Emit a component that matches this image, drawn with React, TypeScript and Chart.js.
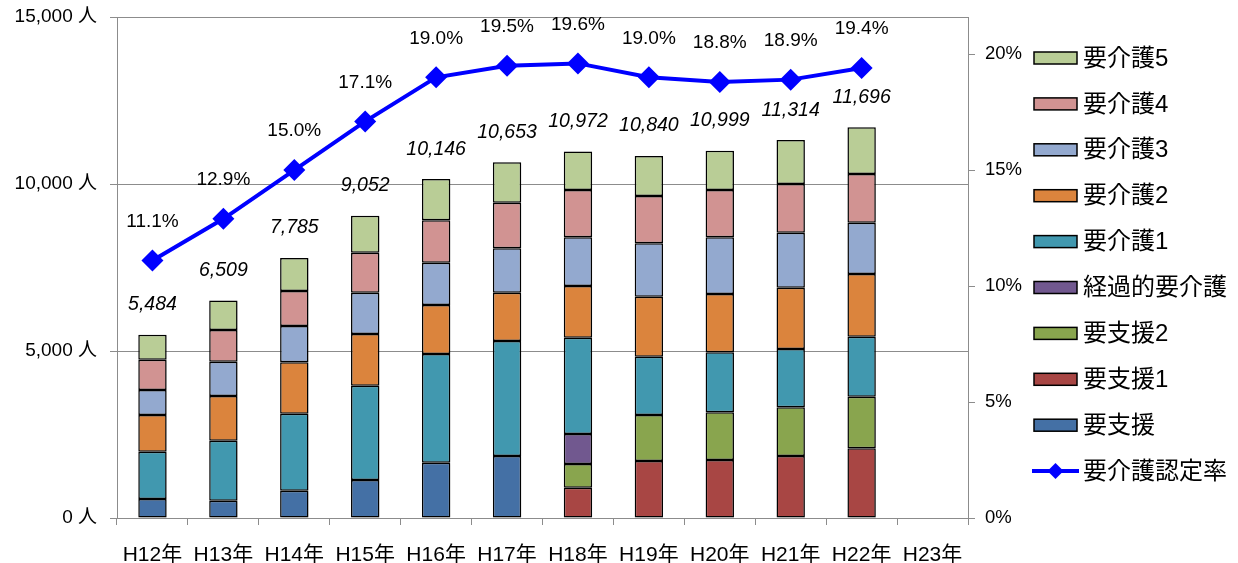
import React, { useEffect, useRef } from 'react';
import { Chart, registerables } from 'chart.js';

Chart.register(...registerables);

const categories = ['H12年', 'H13年', 'H14年', 'H15年', 'H16年', 'H17年', 'H18年', 'H19年', 'H20年', 'H21年', 'H22年', 'H23年'];
const youshien = [570, 520, 817, 1138, 1656, 1856, null, null, null, null, null, null];
const youshien1 = [null, null, null, null, null, null, 907, 1707, 1737, 1856, 2087, null];
const youshien2 = [null, null, null, null, null, null, 710, 1377, 1427, 1458, 1545, null];
const keikaKaigo = [null, null, null, null, null, null, 898, null, null, null, null, null];
const kaigo1 = [1415, 1795, 2306, 2823, 3254, 3443, 2883, 1745, 1797, 1746, 1796, null];
const kaigo2 = [1100, 1340, 1539, 1548, 1467, 1447, 1548, 1797, 1746, 1835, 1877, null];
const kaigo3 = [750, 1025, 1087, 1237, 1267, 1329, 1458, 1598, 1697, 1647, 1536, null];
const kaigo4 = [900, 950, 1047, 1197, 1269, 1365, 1416, 1417, 1416, 1458, 1458, null];
const kaigo5 = [749, 879, 989, 1109, 1233, 1213, 1152, 1199, 1179, 1314, 1397, null];
const totals = [5484, 6509, 7785, 9052, 10146, 10653, 10972, 10840, 10999, 11314, 11696, null];
const rates = [11.1, 12.9, 15.0, 17.1, 19.0, 19.5, 19.6, 19.0, 18.8, 18.9, 19.4, null];
const countTicks = [0, 5000, 10000, 15000];
const rateTicks = [0, 5, 10, 15, 20];

const FONT = '"Liberation Sans", "Noto Sans CJK JP", sans-serif';

const barSeries = [
  { label: '要支援', data: youshien, color: '#4470A5' },
  { label: '要支援1', data: youshien1, color: '#A84644' },
  { label: '要支援2', data: youshien2, color: '#89A54E' },
  { label: '経過的要介護', data: keikaKaigo, color: '#71588F' },
  { label: '要介護1', data: kaigo1, color: '#4198AF' },
  { label: '要介護2', data: kaigo2, color: '#DB843D' },
  { label: '要介護3', data: kaigo3, color: '#93A9CF' },
  { label: '要介護4', data: kaigo4, color: '#D19392' },
  { label: '要介護5', data: kaigo5, color: '#B9CD96' },
];

const shadowPlugin = {
  id: 'barShadow',
  beforeDatasetDraw(chart: any, args: any) {
    const ds = chart.data.datasets[args.index];
    if (ds.type === 'bar') {
      const ctx = chart.ctx;
      ctx.save();
      ctx.shadowColor = 'rgba(0,0,0,0.18)';
      ctx.shadowBlur = 2;
      ctx.shadowOffsetX = 2;
      ctx.shadowOffsetY = 1;
    }
  },
  afterDatasetDraw(chart: any, args: any) {
    const ds = chart.data.datasets[args.index];
    if (ds.type === 'bar') chart.ctx.restore();
  },
};

const labelsPlugin = {
  id: 'valueLabels',
  afterDatasetsDraw(chart: any) {
    const ctx = chart.ctx;
    const xs = chart.scales.x;
    const ys = chart.scales.y;
    const y1 = chart.scales.y1;
    ctx.save();
    ctx.fillStyle = '#000';
    ctx.textAlign = 'center';
    ctx.textBaseline = 'middle';
    ctx.font = `italic 19.5px ${FONT}`;
    totals.forEach((t, i) => {
      if (t == null) return;
      ctx.fillText(t.toLocaleString('en-US'), xs.getPixelForValue(i), ys.getPixelForValue(t) - 30);
    });
    ctx.font = `19px ${FONT}`;
    rates.forEach((r, i) => {
      if (r == null) return;
      ctx.fillText(r.toFixed(1) + '%', xs.getPixelForValue(i), y1.getPixelForValue(r) - 39);
    });
    ctx.restore();
  },
};

const legendPlugin = {
  id: 'customLegend',
  afterDraw(chart: any) {
    const ctx = chart.ctx;
    const items = chart.data.datasets.slice().reverse();
    const x0 = chart.chartArea.right + 66;
    const y0 = 58;
    const step = 45.9;
    ctx.save();
    ctx.font = `24px ${FONT}`;
    ctx.textBaseline = 'middle';
    ctx.textAlign = 'left';
    items.forEach((ds: any, k: number) => {
      const y = y0 + k * step;
      if (ds.type === 'bar') {
        ctx.fillStyle = ds.backgroundColor;
        ctx.fillRect(x0, y - 6, 43, 12);
        ctx.strokeStyle = '#000';
        ctx.lineWidth = 1.5;
        ctx.strokeRect(x0, y - 6, 43, 12);
      } else {
        ctx.strokeStyle = '#0000FF';
        ctx.lineWidth = 4;
        ctx.beginPath();
        ctx.moveTo(x0 - 2, y);
        ctx.lineTo(x0 + 45, y);
        ctx.stroke();
        ctx.fillStyle = '#0000FF';
        ctx.beginPath();
        const cx = x0 + 21.5;
        ctx.moveTo(cx - 8, y);
        ctx.lineTo(cx, y - 8);
        ctx.lineTo(cx + 8, y);
        ctx.lineTo(cx, y + 8);
        ctx.closePath();
        ctx.fill();
      }
      ctx.fillStyle = '#000';
      ctx.fillText(ds.label, x0 + 49, y + 1);
    });
    ctx.restore();
  },
};

export default function App() {
  const ref = useRef<HTMLCanvasElement>(null);
  useEffect(() => {
    document.body.style.margin = '0';
    const canvas = ref.current;
    if (!canvas) return;
    const datasets: any[] = [
      {
        type: 'line',
        label: '要介護認定率',
        data: rates,
        yAxisID: 'y1',
        borderColor: '#0000FF',
        backgroundColor: '#0000FF',
        borderWidth: 4,
        pointStyle: 'rectRot',
        pointRadius: 11,
        pointBorderWidth: 0,
        pointBackgroundColor: '#0000FF',
        tension: 0,
        fill: false,
      },
      ...barSeries.map((s) => ({
        type: 'bar',
        label: s.label,
        data: s.data,
        yAxisID: 'y',
        backgroundColor: s.color,
        borderColor: '#000',
        borderWidth: 1.5,
        borderSkipped: false,
        barPercentage: 0.4,
        categoryPercentage: 1,
        stack: 'main',
      })),
    ];
    const chart = new Chart(canvas, {
      type: 'bar',
      data: { labels: categories, datasets },
      plugins: [shadowPlugin, labelsPlugin, legendPlugin],
      options: {
        responsive: false,
        animation: false,
        devicePixelRatio: 1,
        layout: { padding: { top: 17, left: 0, right: 0, bottom: 0 } },
        plugins: {
          legend: { display: false },
          tooltip: { enabled: false },
        },
        font: { family: FONT },
        scales: {
          x: {
            stacked: true,
            offset: true,
            afterFit: (s: any) => { s.height = 45; s.paddingLeft = 0; s.paddingRight = 0; },
            grid: { offset: true, drawOnChartArea: false, drawTicks: true, tickLength: 7, color: '#8c8c8c' },
            border: { color: '#8c8c8c', width: 1 },
            ticks: { color: '#000', font: { family: FONT, size: 21 }, padding: 18, maxRotation: 0, autoSkip: false },
          },
          y: {
            stacked: true,
            position: 'left',
            min: 0,
            max: 15000,
            afterFit: (s: any) => { s.width = 117; s.paddingTop = 0; s.paddingBottom = 0; },
            afterBuildTicks: (s: any) => { s.ticks = countTicks.map((v) => ({ value: v })); },
            grid: { color: '#8c8c8c', tickLength: 7, drawTicks: true },
            border: { color: '#8c8c8c', width: 1 },
            ticks: {
              color: '#000',
              font: { family: FONT, size: 19 },
              padding: 13,
              callback: (v: any) => Number(v).toLocaleString('en-US') + ' 人',
            },
          },
          y1: {
            stacked: false,
            position: 'right',
            min: 0,
            max: 21.6,
            afterFit: (s: any) => { s.width = 270; s.paddingTop = 0; s.paddingBottom = 0; },
            afterBuildTicks: (s: any) => { s.ticks = rateTicks.map((v) => ({ value: v })); },
            grid: { drawOnChartArea: false, color: '#8c8c8c', tickLength: 7, drawTicks: true },
            border: { color: '#8c8c8c', width: 1 },
            ticks: {
              color: '#000',
              font: { family: FONT, size: 18.5 },
              padding: 10,
              callback: (v: any) => v + '%',
            },
          },
        },
      } as any,
    });
    return () => chart.destroy();
  }, []);
  return <canvas ref={ref} width={1238} height={563} style={{ display: 'block' }} />;
}
